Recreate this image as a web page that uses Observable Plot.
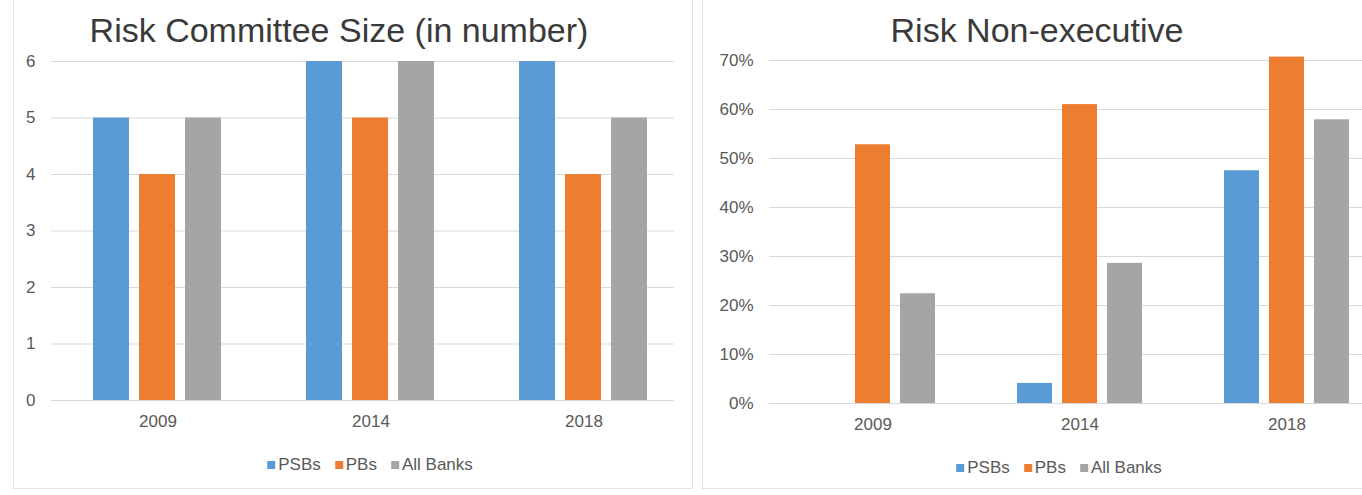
<!DOCTYPE html>
<html><head><meta charset="utf-8">
<script src="https://cdn.jsdelivr.net/npm/d3@7"></script>
<script src="https://cdn.jsdelivr.net/npm/@observablehq/plot@0.6"></script>
<style>
body{margin:0;background:#fff;font-family:"Liberation Sans",Arial,sans-serif;}
#wrap{position:relative;width:1362px;height:495px;overflow:hidden;background:#fff;}
.frame{position:absolute;border:1px solid #e2e2e2;border-top:none;box-sizing:border-box;}
.title{position:absolute;font-size:34px;line-height:34px;color:#3a3a3a;white-space:nowrap;transform:translateX(-50%);}
.clip{position:absolute;top:0;overflow:hidden;height:460px;}
.clip svg{max-width:none !important;}
.legend{position:absolute;transform:translate(-50%,-50%);display:flex;align-items:center;font-size:17px;color:#595959;white-space:nowrap;}
.legend .item{display:flex;align-items:center;margin:0 7px;}
.legend .sw{width:8px;height:8px;margin-right:3px;display:inline-block;}
</style>
</head><body>
<div id="wrap">
  <div class="frame" style="left:13px;top:-2px;width:680px;height:491px;"></div>
  <div class="frame" style="left:702px;top:-2px;width:680px;height:491px;border-right:none;"></div>
  <div class="title" style="left:339px;top:13px;">Risk Committee Size (in number)</div>
  <div class="title" style="left:1037px;top:13px;">Risk Non-executive</div>
  <div class="clip" id="left" style="left:0;width:674px;"></div>
  <div class="clip" id="right" style="left:690px;width:672px;"></div>
  <div class="legend" id="legL" style="left:370px;top:465px;"></div>
  <div class="legend" id="legR" style="left:1059px;top:468px;"></div>
</div>
<script>
// ---- data ----
const years = ["2009", "2014", "2018"];
const series = ["PSBs", "PBs", "All Banks"];
const colors = ["#5B9BD5", "#ED7D31", "#A5A5A5"];

const sizePSBs = [5, 6, 6];
const sizePBs = [4, 5, 4];
const sizeAll = [5, 6, 5];
const sizeTicks = [0, 1, 2, 3, 4, 5, 6];

const nonexecPSBs = [0, 4.1, 47.5];
const nonexecPBs = [52.8, 61, 70.7];
const nonexecAll = [22.4, 28.6, 57.9];
const pctTicks = [0, 10, 20, 30, 40, 50, 60, 70];

function table(vals) {
  return years.flatMap((y, i) => series.map((s, j) => ({year: y, series: s, value: vals[j][i]})));
}

function chart(data, opts) {
  const svg = Plot.plot({
    width: opts.width, height: 440,
    marginTop: opts.mt, marginBottom: 440 - opts.mt - opts.ph, marginLeft: opts.ml, marginRight: 0,
    style: {fontFamily: "'Liberation Sans', Arial, sans-serif", fontSize: "17px", color: "#595959", background: "transparent", overflow: "visible", maxWidth: "none"},
    facet: {data, x: "year"},
    fx: {domain: years, padding: 0, axis: "bottom", tickSize: 0, tickPadding: 14, label: null},
    x: {domain: series, paddingInner: opts.pi, paddingOuter: opts.po, axis: null},
    y: {domain: opts.ydomain, ticks: opts.ticks, tickFormat: opts.fmt, tickSize: 0, tickPadding: 16, label: null},
    color: {domain: series, range: colors},
    marks: [
      Plot.ruleY(opts.ticks, {stroke: "#d9d9d9", strokeWidth: 1.2}),
      Plot.barY(data, {x: "series", y: "value", fill: "series"})
    ]
  });
  svg.style.maxWidth = "none";
  return svg;
}

document.getElementById("left").appendChild(chart(table([sizePSBs, sizePBs, sizeAll]), {
  width: 691, mt: 61, ph: 339, ml: 50, pi: 10/47, po: 0.878,
  ydomain: [0, 6], ticks: sizeTicks, fmt: d => String(d)
}));
document.getElementById("right").appendChild(chart(table([nonexecPSBs, nonexecPBs, nonexecAll]), {
  width: 700, mt: 60, ph: 343, ml: 78, pi: 10.5/46, po: 0.867,
  ydomain: [0, 70], ticks: pctTicks, fmt: d => d + "%"
}));

function legend(id) {
  const el = document.getElementById(id);
  series.forEach((s, i) => {
    const it = document.createElement("span");
    it.className = "item";
    it.innerHTML = `<span class="sw" style="background:${colors[i]}"></span>${s}`;
    el.appendChild(it);
  });
}
legend("legL"); legend("legR");
</script>
</body></html>
